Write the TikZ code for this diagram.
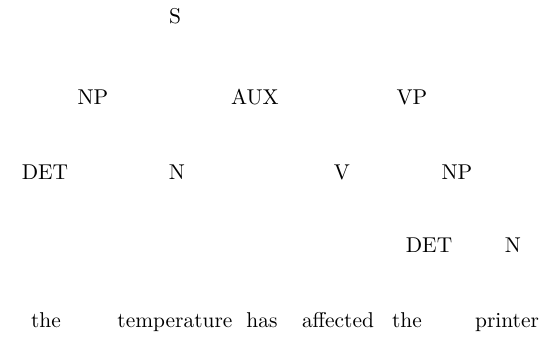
\documentclass[tikz,border=0pt]{standalone}
\begin{document}
\begin{tikzpicture}[x=0.476pt,y=-0.476pt,
  lab/.style={anchor=base,inner sep=0pt,font=\fontsize{10.2}{12}\selectfont}]
\useasboundingbox (0,0) rectangle (560,343);
\node[lab] (s) at (175,23) {S};
\node[lab] (np1) at (93,104) {NP};
\node[lab] (aux) at (255,104) {AUX};
\node[lab] (vp) at (412,104) {VP};
\node[lab] (det1) at (45,179) {DET};
\node[lab] (n1) at (177,179) {N};
\node[lab] (v) at (342,179) {V};
\node[lab] (np2) at (457,179) {NP};
\node[lab] (det2) at (429,252) {DET};
\node[lab] (n2) at (513,252) {N};
\node[lab] (w1) at (46,327) {the};
\node[lab] (w2) at (175,327) {temperature};
\node[lab] (w3) at (262,327) {has};
\node[lab] (w4) at (338,327) {affected};
\node[lab] (w5) at (407,327) {the};
\node[lab] (w6) at (507,327) {printer};
\end{tikzpicture}
\end{document}
